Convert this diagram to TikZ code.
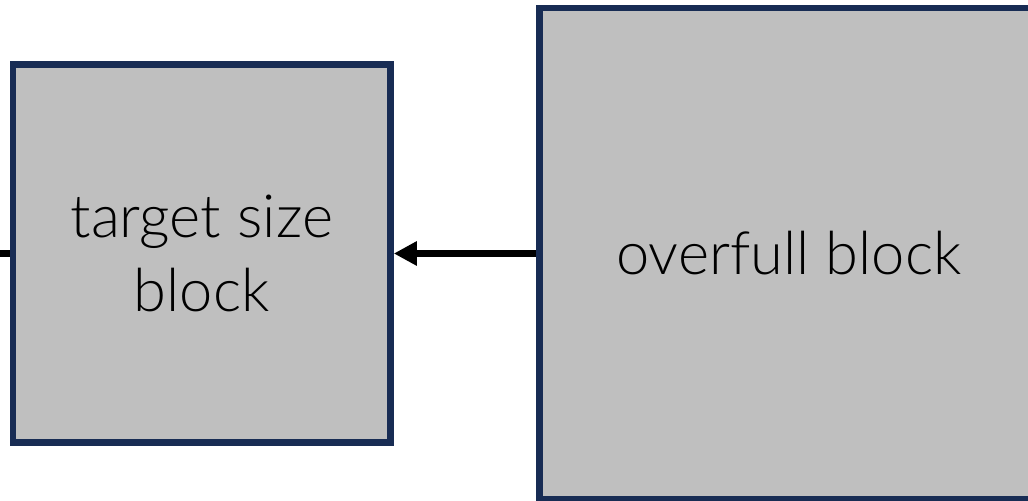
\documentclass[tikz,border=0pt]{standalone}
\usepackage{fontspec}
\setmainfont{Lato Light}
\usetikzlibrary{positioning, arrows.meta}
\definecolor{navy}{RGB}{24,44,84}
\definecolor{blockgray}{RGB}{191,191,191}
\tikzset{
    block/.style={draw=navy, fill=blockgray, line width=3.3pt, align=center,
        font=\fontsize{29.8}{37}\selectfont}, % grey boxes
    link/.style={line width=3.6pt}, % thick black connectors
}

\begin{document}
\begin{tikzpicture}[x=0.5pt, y=-0.5pt]
  \useasboundingbox (0,0) rectangle (1028,501);
  \node[block, minimum width=188.75pt, minimum height=189pt] (target) at (201.75,253.5) {target size\\block};
  \node[block, minimum width=249.2pt, minimum height=245.4pt] (overfull) at (788.8,253.5) {overfull block};
  \draw[link, -{Triangle[length=11.5pt, width=11.5pt]}] (overfull.west) -- (target.east);

  \coordinate (stub) at (-10,253.5);
  \draw[link] (target.west) -- (stub);
\end{tikzpicture}
\end{document}
